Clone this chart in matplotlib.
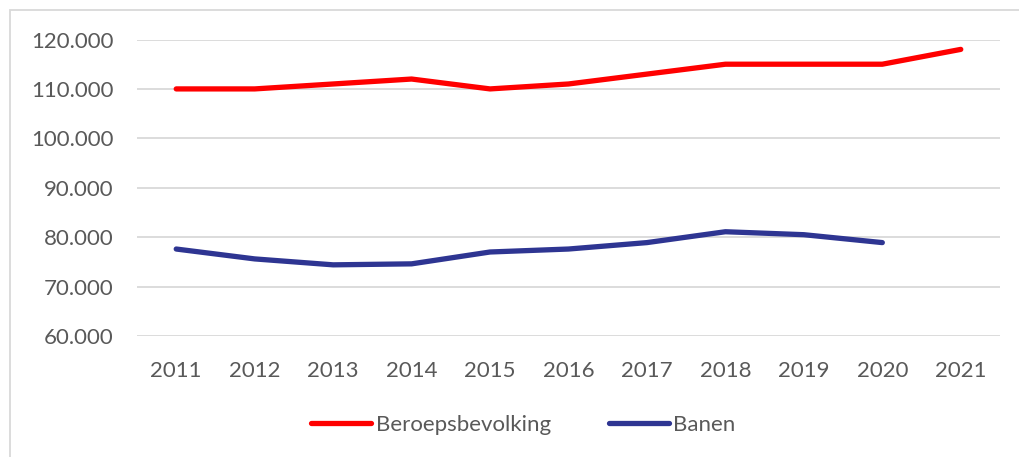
import matplotlib
matplotlib.use("Agg")
import matplotlib.pyplot as plt
from matplotlib.ticker import FuncFormatter, MultipleLocator
from matplotlib.patches import Rectangle

years = ["2011", "2012", "2013", "2014", "2015", "2016", "2017", "2018", "2019", "2020", "2021"]
beroepsbevolking = [110000, 110000, 111000, 112000, 110000, 111000, 113000, 115000, 115000, 115000, 118000]
banen = [77600, 75600, 74400, 74600, 77000, 77600, 78900, 81100, 80500, 78900]

red = "#FF0000"
blue = "#2E3592"
grey = "#595959"

plt.rcParams['font.family'] = ['Lato', 'DejaVu Sans']

fig = plt.figure(figsize=(10.20, 4.57), dpi=100)
ax = fig.add_axes([137/1020, 1 - 336/457, (1000-137)/1020, (336-39.5)/457])

x = list(range(len(years)))
ax.plot(x, beroepsbevolking, color=red, lw=3.8, solid_capstyle='round', solid_joinstyle='round', label="Beroepsbevolking")
ax.plot(x[:len(banen)], banen, color=blue, lw=3.8, solid_capstyle='round', solid_joinstyle='round', label="Banen")

ax.set_xlim(-0.5, len(years) - 0.5)
ax.set_ylim(60000, 120000)
ax.yaxis.set_major_locator(MultipleLocator(10000))
ax.yaxis.set_major_formatter(FuncFormatter(lambda v, p: f"{int(v):,}".replace(",", ".")))
ax.set_xticks(x)
ax.set_xticklabels(years)
ax.grid(axis='y', color='#D9D9D9', lw=1.3)
ax.set_axisbelow(True)
for s in ax.spines.values():
    s.set_visible(False)
ax.tick_params(axis='both', length=0, labelsize=16, colors=grey, pad=0)
ax.tick_params(axis='y', pad=17)
ax.tick_params(axis='x', pad=18)

leg = fig.legend(loc='center', bbox_to_anchor=(0.513, 1 - 425/457), ncol=2, frameon=False,
                 fontsize=16, handlelength=2.7, handletextpad=0.2, columnspacing=2.6)
for t in leg.get_texts():
    t.set_color(grey)

fig.patches.append(Rectangle((10/1020, -0.1), 1.2, 1 - 10/457 + 0.1, transform=fig.transFigure,
                             fill=False, edgecolor='#D9D9D9', lw=1.3))

fig.savefig("out.png", dpi=100, facecolor='white')
